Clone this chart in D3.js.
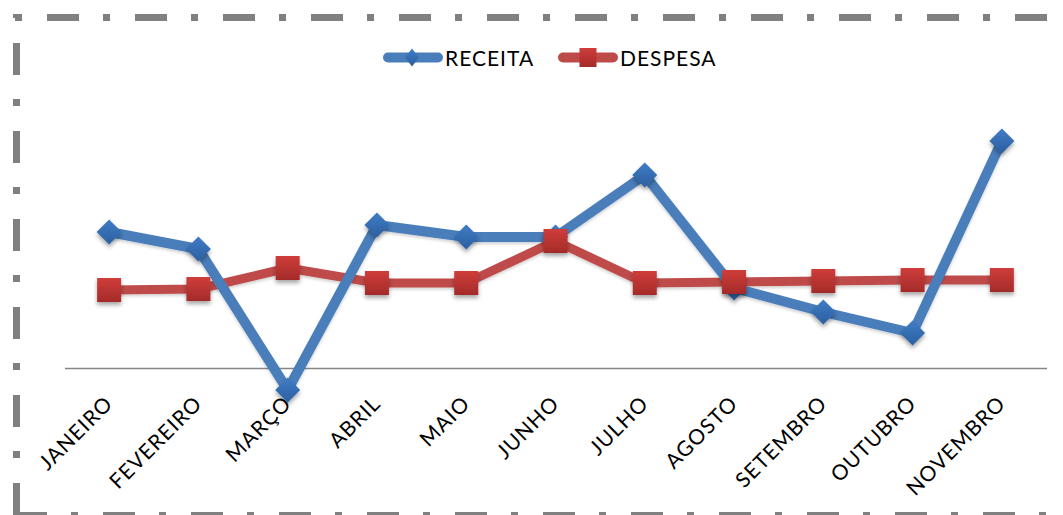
<!DOCTYPE html>
<html><head><meta charset="utf-8">
<script src="https://cdn.jsdelivr.net/npm/d3@7"></script>
<style>
body{margin:0;background:#fff;}
svg{display:block;}
text{font-family:Lato,"Open Sans",sans-serif;fill:#000;}
</style>
</head><body>
<svg id="chart" width="1063" height="515"></svg>
<script>
const categories = ["JANEIRO","FEVEREIRO","MARÇO","ABRIL","MAIO","JUNHO","JULHO","AGOSTO","SETEMBRO","OUTUBRO","NOVEMBRO"];
const receita = [3400, 2975, -550, 3575, 3275, 3275, 4825, 2000, 1400, 875, 5675];
const despesa = [1950, 1975, 2500, 2125, 2125, 3175, 2125, 2150, 2175, 2200, 2200];
const seriesNames = ["RECEITA", "DESPESA"];

const svg = d3.select("#chart");
const W = 1063, H = 515;

const defs = svg.append("defs");
const gB = defs.append("linearGradient").attr("id","gBlue").attr("x1",0).attr("y1",0).attr("x2",0).attr("y2",1);
gB.append("stop").attr("offset","0%").attr("stop-color","#3f7cc6");
gB.append("stop").attr("offset","100%").attr("stop-color","#2c5f9f");
const gR = defs.append("linearGradient").attr("id","gRed").attr("x1",0).attr("y1",0).attr("x2",0).attr("y2",1);
gR.append("stop").attr("offset","0%").attr("stop-color","#cf3d3a");
gR.append("stop").attr("offset","100%").attr("stop-color","#a42b29");
const f = defs.append("filter").attr("id","shadow").attr("x","-50%").attr("y","-50%").attr("width","200%").attr("height","200%");
f.append("feDropShadow").attr("dx",0).attr("dy",3).attr("stdDeviation",2).attr("flood-color","#000").attr("flood-opacity",0.35);
const fl = defs.append("filter").attr("id","lshadow").attr("x","-10%").attr("y","-10%").attr("width","120%").attr("height","130%");
fl.append("feDropShadow").attr("dx",0).attr("dy",2).attr("stdDeviation",1.5).attr("flood-color","#000").attr("flood-opacity",0.18);

// dash-dot border
const borderStyle = sel => sel.attr("stroke","#808080").attr("stroke-width",7).attr("fill","none")
  .attr("stroke-dasharray","32 24 7 25");
borderStyle(svg.append("line").attr("x1",13).attr("y1",17.5).attr("x2",W+10).attr("y2",17.5).attr("stroke-dashoffset",54));
borderStyle(svg.append("line").attr("x1",16.5).attr("y1",14).attr("x2",16.5).attr("y2",H+10).attr("stroke-dashoffset",59));
borderStyle(svg.append("line").attr("x1",13).attr("y1",515.5).attr("x2",W+10).attr("y2",515.5).attr("stroke-dashoffset",86));

const x = d3.scaleBand().domain(categories).range([64.5, 1046.5]);
const y = d3.scaleLinear().domain([-1000, 6000]).range([408, 128]);
const cx = d => x(d) + x.bandwidth()/2;

// axis
const axis = svg.append("g").attr("transform",`translate(0,${y(0)})`)
  .call(d3.axisBottom(x).tickSize(0).tickSizeOuter(0));
axis.select(".domain").attr("stroke","#868686").attr("stroke-width",1.5);
axis.selectAll(".tick text")
  .attr("x",0).attr("y",0).attr("dy",0)
  .attr("text-anchor","end")
  .attr("transform","translate(5,37) rotate(-45)")
  .style("font-size","21px")
  .style("letter-spacing","1px")
  .attr("fill","#000");

const series = [
  {name: seriesNames[0], values: receita, line:"#4a7ebb", fill:"url(#gBlue)", shape:"diamond"},
  {name: seriesNames[1], values: despesa, line:"#be4b48", fill:"url(#gRed)", shape:"square"}
];

const lineGen = d3.line().x((d,i)=>cx(categories[i])).y(d=>y(d));

// lines: red under blue
[series[1], series[0]].forEach(s=>{
  svg.append("path").datum(s.values)
    .attr("d", lineGen)
    .attr("fill","none")
    .attr("stroke", s.line)
    .attr("stroke-width", s.shape==="diamond" ? 10 : 9)
    .attr("stroke-linejoin","round")
    .attr("filter","url(#lshadow)");
});

const diamond = r => `M0,${-r}L${r},0L0,${r}L${-r},0Z`;
series.forEach(s=>{
  const g = svg.append("g").attr("filter","url(#shadow)");
  g.selectAll("path").data(s.values).enter().append("path")
    .attr("transform",(d,i)=>`translate(${cx(categories[i])},${y(d)})`)
    .attr("d", s.shape==="diamond" ? diamond(12.5) : "M-12,-12H12V12H-12Z")
    .attr("fill", s.fill);
});

// legend
const legend = [
  {s: series[0], x1: 388, x2: 438, mx: 412, tx: 445},
  {s: series[1], x1: 563, x2: 613, mx: 588, tx: 620}
];
legend.forEach(l=>{
  const ly = 57.5;
  svg.append("line").attr("x1",l.x1).attr("x2",l.x2).attr("y1",ly).attr("y2",ly)
    .attr("stroke",l.s.line).attr("stroke-width",10).attr("stroke-linecap","round");
  svg.append("path")
    .attr("transform",`translate(${l.mx},${ly})`)
    .attr("d", l.s.shape==="diamond" ? "M0,-9L7,0L0,9L-7,0Z" : "M-8.5,-9.5H8.5V9.5H-8.5Z")
    .attr("fill", l.s.fill);
  svg.append("text").attr("x",l.tx).attr("y",66)
    .style("font-size","21px").style("letter-spacing","1px")
    .text(l.s.name);
});
</script>
</body></html>
